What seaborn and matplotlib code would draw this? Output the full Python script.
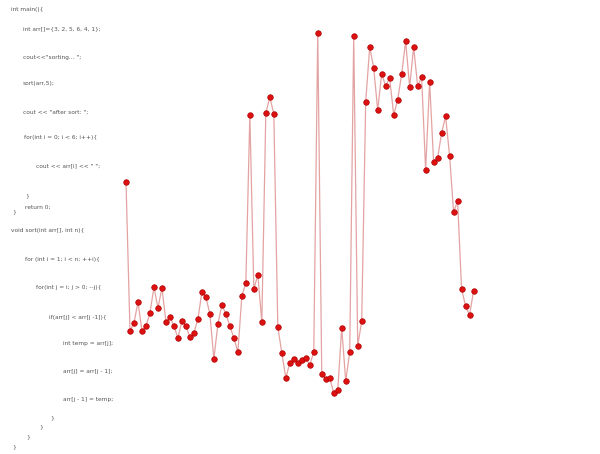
"""
Screenshot-style chart: C++ sort snippet on the left, red point-line trace on the right.
"""

import numpy as np
import pandas as pd
import matplotlib
matplotlib.use("Agg")
import matplotlib.pyplot as plt
import seaborn as sns

# trace values (height above baseline, arbitrary units)
values = [
    218, 69, 77, 98, 69, 74, 87, 113, 92, 112,
    78, 83, 74, 62, 79, 74, 63, 67, 81, 108,
    103, 86, 41, 76, 95, 86, 74, 62, 48, 104,
    117, 285, 111, 125, 78, 287, 303, 286, 73, 47,
    22, 37, 41, 37, 40, 42, 35, 48, 367, 26,
    21, 22, 7, 10, 72, 19, 48, 364, 54, 79,
    298, 353, 332, 290, 326, 314, 322, 285, 300, 326,
    359, 313, 353, 314, 323, 230, 318, 238, 242, 267,
    284, 244, 188, 199, 111, 94, 85, 109,
]

code_lines = [
    "int main(){",
    "int arr[]={3, 2, 5, 6, 4, 1};",
    "cout<<\"sorting... \";",
    "sort(arr,5);",
    "cout << \"after sort: \";",
    "for(int i = 0; i < 6; i++){",
    "cout << arr[i] << \" \";",
    "}",
    "return 0;",
    "}",
    "void sort(int arr[], int n){",
    "for (int i = 1; i < n; ++i){",
    "for(int j = i; j > 0; --j){",
    "if(arr[j] < arr[j -1]){",
    "int temp = arr[j];",
    "arr[j] = arr[j - 1];",
    "arr[j - 1] = temp;",
    "}",
    "}",
    "}",
    "}",
]

# pixel positions (left x, centre y) of each code line
code_pos = [
    (11, 9), (23, 29), (23, 57), (23, 83), (23, 112), (24, 138),
    (36, 166), (25, 196), (25, 207), (12, 212), (11, 230), (25, 259),
    (36, 288), (49, 317), (63, 343), (63, 372), (63, 400),
    (50, 418), (39, 427), (26, 437), (12, 447),
]

W, H = 600, 454
df = pd.DataFrame({"step": np.arange(len(values)), "value": values})

sns.set_theme(style="white")
fig = plt.figure(figsize=(W / 100, H / 100), dpi=100)
ax = fig.add_axes([0, 0, 1, 1])

sns.lineplot(data=df, x="step", y="value", ax=ax, color="#e4a3a3", linewidth=0.9,
             zorder=2)
sns.scatterplot(data=df, x="step", y="value", ax=ax, color="#dd1111", s=16,
                edgecolor="#b00000", linewidth=0.5, zorder=3)

# map data onto the screenshot pixels: step 0 at x=126, 4 px per step; value 0 at y=400
x0, dx = 126, 3.995
ax.set_xlim(-x0 / dx, (W - x0) / dx)
ax.set_ylim(400 - H, 400)
ax.axis("off")

for line, (px, py) in zip(code_lines, code_pos):
    fig.text(px / W, 1 - py / H, line, fontsize=4.2, color="#555555",
             ha="left", va="center", family="DejaVu Sans")

fig.savefig("out.png", dpi=100, facecolor="white")
